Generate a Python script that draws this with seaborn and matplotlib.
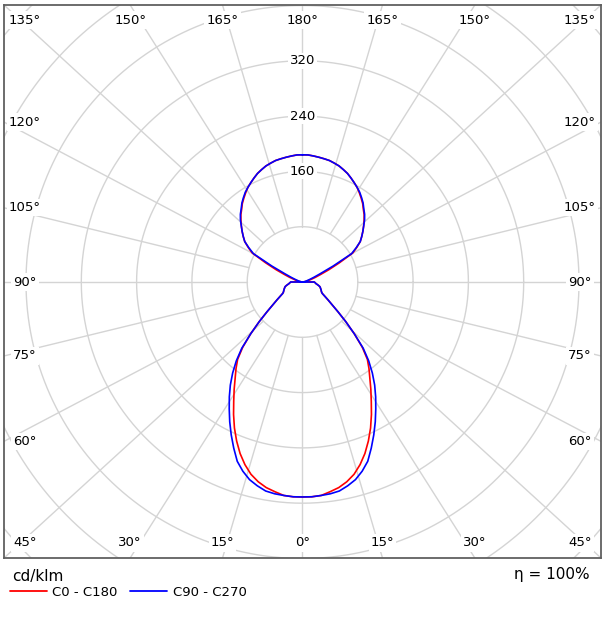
import numpy as np
import pandas as pd
import matplotlib
matplotlib.use("Agg")
import matplotlib.pyplot as plt
import seaborn as sns
from matplotlib.lines import Line2D

# ---------------- data ----------------
gamma = [i * 2.5 for i in range(73)]  # vertical angle 0..180, 0 = nadir
c0_c180 = [311, 311, 310, 306, 302, 296, 288, 277, 264, 249, 233, 216, 199, 184, 170, 158, 146, 128, 106,
           85, 67, 54, 45, 38, 33, 31, 30, 29, 28, 27, 26, 24, 22, 20, 19, 18, 17,
           1, 2, 3, 5, 7, 10, 14, 20, 28, 42, 60, 84, 93, 102, 108, 114, 120, 126, 132, 137, 143, 148,
           153, 158, 162, 166, 170, 173, 176, 178, 180, 181, 182, 183, 184, 184]
c90_c270 = [311, 311, 310, 309, 307, 302, 296, 287, 276, 260, 244, 228, 212, 197, 182, 166, 149, 130, 106,
            85, 67, 54, 45, 38, 33, 31, 30, 29, 28, 27, 26, 24, 22, 20, 19, 18, 17,
            0, 1, 2, 3, 4, 6, 8, 12, 18, 28, 50, 82, 92, 102, 108, 114, 120, 127, 133, 138, 144, 149,
            154, 158, 162, 166, 170, 173, 176, 178, 180, 181, 182, 183, 184, 184]
series_names = ["C0 - C180", "C90 - C270"]
ring_values = [80, 160, 240, 320, 400, 480, 560]
ring_labels = [160, 240, 320]
angle_ticks = list(range(0, 181, 15))
unit_label = "cd/klm"
eta_label = "η = 100%"

# ---------------- layout ----------------
W, H = 607, 618
K = 55.3 / 80.0           # px per cd
CX, CY = 302.5, 282.0     # centre in px
BOX = (4, 5, 601, 558)    # left, top, right, bottom in px
grid_color = "#d4d4d4"
colors = {"C0 - C180": "#ff0000", "C90 - C270": "#0000ff"}

sns.set_style("white")
plt.rcParams["font.family"] = ["DejaVu Sans"]
plt.rcParams["text.color"] = "black"

fig = plt.figure(figsize=(W / 100, H / 100), dpi=100)
ax = fig.add_axes([BOX[0] / W, (H - BOX[3]) / H, (BOX[2] - BOX[0]) / W, (BOX[3] - BOX[1]) / H])
xr = (BOX[2] - CX) / K
xl = (BOX[0] - CX) / K
yt = (CY - BOX[1]) / K
yb = (CY - BOX[3]) / K
ax.set_xlim(xl, xr)
ax.set_ylim(yb, yt)
ax.set_xticks([])
ax.set_yticks([])
for s in ax.spines.values():
    s.set_color("#606060")
    s.set_linewidth(1.3)

# rings
th = np.linspace(0, 2 * np.pi, 721)
for rv in ring_values:
    ax.plot(rv * np.cos(th), rv * np.sin(th), color=grid_color, lw=1.0, zorder=1)

# radial lines + angle labels
ix_in = 21 / K
iy_in = 15 / K
for g in angle_ticks:
    gr = np.radians(g)
    sides = [1] if g in (0, 180) else [-1, 1]
    for sd in sides:
        if g <= 45:
            bx, by = sd * xr * np.tan(gr), yb
        elif g >= 135:
            bx, by = sd * xr * np.tan(np.pi - gr), yt
        else:
            ref = yt if g > 90 else -yb
            bx, by = sd * xr, -ref / np.tan(gr)
        x0, y0 = sd * ring_values[0] * np.sin(gr), -ring_values[0] * np.cos(gr)
        ax.plot([x0, bx], [y0, by], color=grid_color, lw=1.0, zorder=1)
        lx = np.clip(bx, xl + ix_in, xr - ix_in)
        ly = np.clip(by, yb + iy_in, yt - iy_in)
        ax.text(lx, ly, f"{g}°", ha="center", va="center", fontsize=9.5, color="black", zorder=3,
                bbox=dict(facecolor="white", edgecolor="none", pad=1.5))

for rl in ring_labels:
    ax.text(0, rl, str(rl), ha="center", va="center", fontsize=9.5, color="black", zorder=3,
            bbox=dict(facecolor="white", edgecolor="none", pad=1.0))

# curves
rows = []
for name, vals in zip(series_names, [c0_c180, c90_c270]):
    g = np.radians(np.array(gamma, dtype=float))
    v = np.array(vals, dtype=float)
    # left half (top -> bottom), then right half (bottom -> top)
    xs = np.concatenate([-(v * np.sin(g))[::-1], (v * np.sin(g))[1:]])
    ys = np.concatenate([-(v * np.cos(g))[::-1], -(v * np.cos(g))[1:]])
    for i, (a, b) in enumerate(zip(xs, ys)):
        rows.append({"plane": name, "x": a, "y": b, "order": i})
df = pd.DataFrame(rows)
sns.lineplot(data=df, x="x", y="y", hue="plane", hue_order=series_names, palette=colors,
             sort=False, estimator=None, lw=1.2, legend=False, ax=ax, zorder=4)
ax.set_xlabel("")
ax.set_ylabel("")

# bottom legend / annotations
fig.text(12 / W, 1 - 576 / H, unit_label, ha="left", va="center", fontsize=11, color="black")
fig.text(590 / W, 1 - 575 / H, eta_label, ha="right", va="center", fontsize=11, color="black")
leg_items = [(10, 47, 52), (130, 167, 173)]
for (x0, x1, tx), name in zip(leg_items, series_names):
    fig.add_artist(Line2D([x0 / W, x1 / W], [1 - 591 / H, 1 - 591 / H], color=colors[name], lw=1.3))
    fig.text(tx / W, 1 - 592 / H, name, ha="left", va="center", fontsize=9.5, color="black")

fig.savefig("out.png", dpi=100)
